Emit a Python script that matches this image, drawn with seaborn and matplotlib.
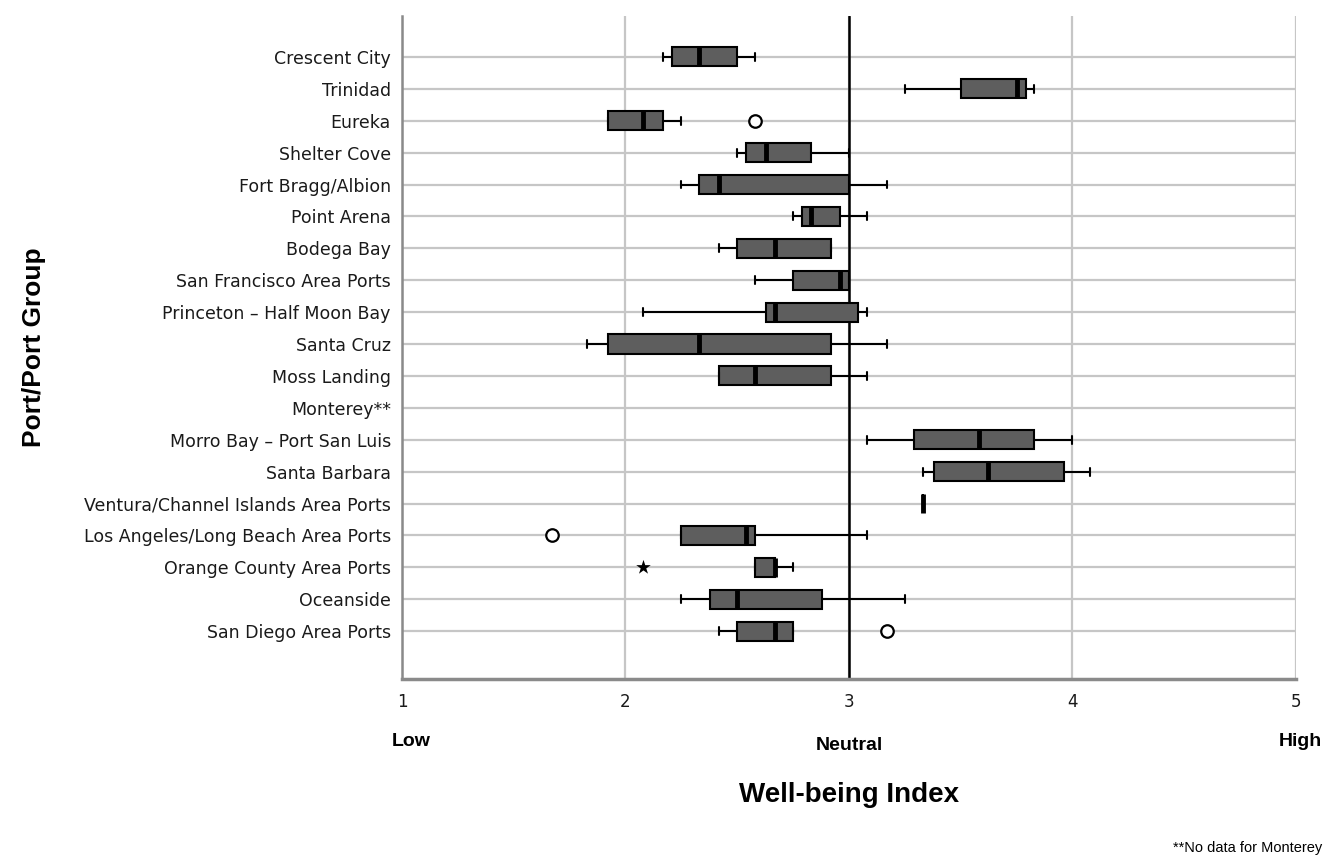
import matplotlib
matplotlib.use('Agg')
import matplotlib.pyplot as plt
import seaborn as sns
import pandas as pd

PORTS = [
    'Crescent City', 'Trinidad', 'Eureka', 'Shelter Cove', 'Fort Bragg/Albion',
    'Point Arena', 'Bodega Bay', 'San Francisco Area Ports',
    'Princeton – Half Moon Bay', 'Santa Cruz', 'Moss Landing', 'Monterey**',
    'Morro Bay – Port San Luis', 'Santa Barbara',
    'Ventura/Channel Islands Area Ports', 'Los Angeles/Long Beach Area Ports',
    'Orange County Area Ports', 'Oceanside', 'San Diego Area Ports',
]
# five-number summary (None = no data)
LOWER = [2.17, 3.25, 1.92, 2.50, 2.25, 2.75, 2.42, 2.58, 2.08, 1.83, 2.42, None,
         3.08, 3.33, 3.33, 2.25, 2.58, 2.25, 2.42]
Q1 = [2.21, 3.50, 1.92, 2.54, 2.33, 2.79, 2.50, 2.75, 2.63, 1.92, 2.42, None,
      3.29, 3.38, 3.33, 2.25, 2.58, 2.38, 2.50]
MEDIAN = [2.33, 3.75, 2.08, 2.63, 2.42, 2.83, 2.67, 2.96, 2.67, 2.33, 2.58, None,
          3.58, 3.62, 3.33, 2.54, 2.67, 2.50, 2.67]
Q3 = [2.50, 3.79, 2.17, 2.83, 3.00, 2.96, 2.92, 3.00, 3.04, 2.92, 2.92, None,
      3.83, 3.96, 3.33, 2.58, 2.67, 2.88, 2.75]
UPPER = [2.58, 3.83, 2.25, 3.00, 3.17, 3.08, 2.92, 3.00, 3.08, 3.17, 3.08, None,
         4.00, 4.08, 3.33, 3.08, 2.75, 3.25, 2.75]

OUTLIER_PORTS = ['Eureka', 'Los Angeles/Long Beach Area Ports', 'San Diego Area Ports']
OUTLIER_VALUES = [2.58, 1.67, 3.17]
EXTREME_PORTS = ['Orange County Area Ports']
EXTREME_VALUES = [2.08]

rows = []
for i, port in enumerate(PORTS):
    if MEDIAN[i] is None:
        continue
    for v in (LOWER[i], Q1[i], MEDIAN[i], Q3[i], UPPER[i]):
        rows.append((port, v))
df = pd.DataFrame(rows, columns=['port', 'score'])

sns.set_style('white')
plt.rcParams['font.family'] = ['DejaVu Sans']

fig = plt.figure(figsize=(13.31, 8.58), dpi=100)
ax = fig.add_axes([0.302, 0.2086, 0.6717, 0.7727])

sns.boxplot(
    data=df, x='score', y='port', order=PORTS, ax=ax,
    whis=(0, 100), showfliers=False, width=0.6, saturation=1,
    color='#5e5e5e', linecolor='black', linewidth=1.5,
    medianprops=dict(linewidth=3.5, color='black'),
    capwidths=0.25,
)
sns.stripplot(x=OUTLIER_VALUES, y=OUTLIER_PORTS, order=PORTS, ax=ax, jitter=False,
              marker='o', size=9, color='white', edgecolor='black', linewidth=1.6)
sns.stripplot(x=EXTREME_VALUES, y=EXTREME_PORTS, order=PORTS, ax=ax, jitter=False,
              marker='*', size=11, color='black')

ax.set_xlim(1, 5)
ax.set_ylim(len(PORTS) + 0.5, -1.28)
ax.set_xticks([1, 2, 3, 4, 5])
ax.set_axisbelow(True)
ax.grid(True, axis='both', color='#c6c6c6', linewidth=1.6)
ax.axvline(3, color='black', linewidth=1.8, zorder=1.5)

for s in ['top', 'right']:
    ax.spines[s].set_visible(False)
ax.spines['left'].set_color('#8a8a8a')
ax.spines['left'].set_linewidth(1.8)
ax.spines['bottom'].set_color('#8a8a8a')
ax.spines['bottom'].set_linewidth(2.5)

ax.tick_params(axis='both', length=0)
ax.tick_params(axis='y', labelsize=12.5, pad=8, labelcolor='#1a1a1a')
ax.tick_params(axis='x', labelsize=12, pad=10, labelcolor='#1a1a1a')

ax.set_xlabel('')
ax.set_ylabel('Port/Port Group', fontsize=19, fontweight='bold', color='black',
              family='Liberation Sans', labelpad=0)
ax.yaxis.set_label_coords(-0.398, 0.5)

lab = dict(fontsize=14, fontweight='bold', family='Liberation Sans', color='black',
           ha='center', va='center')
fig.text(411 / 1331, 1 - 742 / 858, 'Low', **lab)
fig.text(849 / 1331, 1 - 745 / 858, 'Neutral', **lab)
fig.text(1300 / 1331, 1 - 742 / 858, 'High', **lab)
fig.text(849 / 1331, 1 - 795 / 858, 'Well-being Index', ha='center', va='center',
         fontsize=20, fontweight='bold', family='Liberation Sans', color='black')
fig.text(1322 / 1331, 1 - 848 / 858, '**No data for Monterey', ha='right', va='center',
         fontsize=10.5, family='Liberation Sans', color='black')

fig.savefig('out.png', dpi=100)
